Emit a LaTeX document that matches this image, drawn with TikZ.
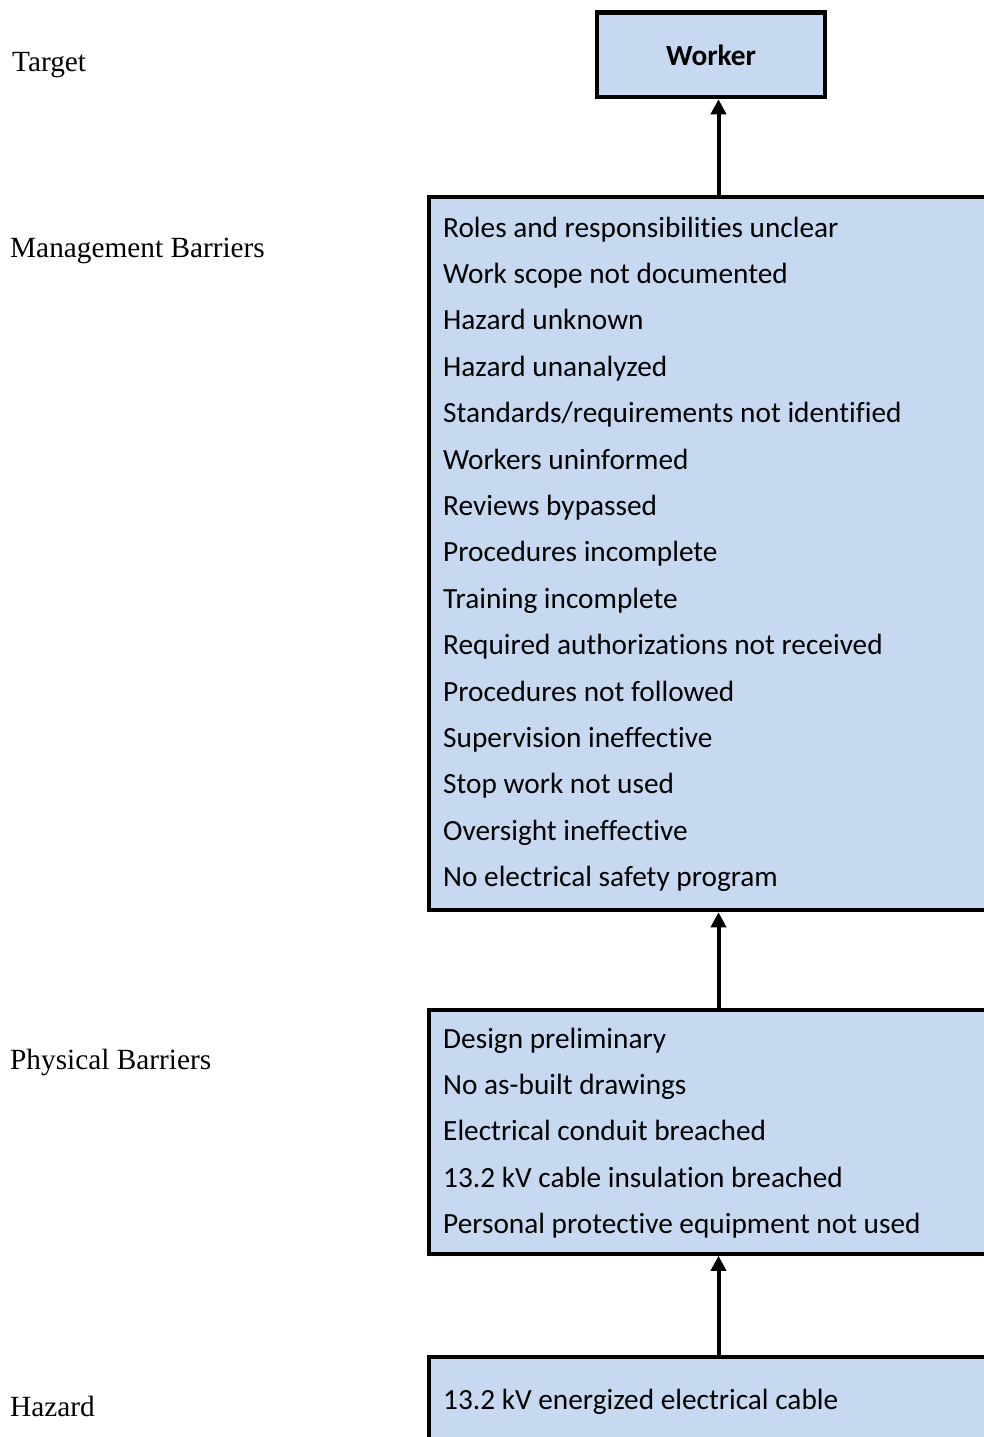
\documentclass[tikz,border=0pt]{standalone}
\usepackage{xcolor}
\usepackage{fontspec}
\setmainfont{Liberation Serif}
\newfontfamily\boxfont[Ligatures=NoCommon]{Carlito}
\usepackage{tikz}
\usetikzlibrary{positioning, arrows.meta}
\definecolor{boxblue}{RGB}{198,217,241}
\tikzset{>={Triangle[width=15pt, length=15pt]}, flow/.style={->, line width=4pt}}
\tikzstyle{barrier}=[draw, line width=4.3pt, fill=boxblue, inner sep=0pt, anchor=north west]
\tikzstyle{items}=[align=left, inner sep=0pt, anchor=north west, font=\boxfont\fontsize{29.3}{46.4}\selectfont]
\tikzstyle{level}=[inner sep=0pt, anchor=base west, font=\fontsize{29.3}{35}\selectfont]

\begin{document}
\begin{tikzpicture}[x=1pt, y=-1pt]
\useasboundingbox (0,0) rectangle (984,1437);
\clip (0,0) rectangle (984,1437);
% levels on the left
\node[level] (target) at (12,71.5) {Target};
\node[level] (mgmtLabel) at (10,257.5) {Management Barriers};
\node[level] (physLabel) at (10,1069.5) {Physical Barriers};
\node[level] (hazardLabel) at (10,1416.5) {Hazard};
% boxes
\node[barrier, minimum width=228pt, minimum height=84.5pt, font=\boxfont\bfseries\fontsize{29.3}{35}\selectfont] (worker) at (595,10.5) {Worker};
\node[barrier, minimum width=700pt, minimum height=713.5pt] (mgmt) at (427,194.5) {};
\node[items] (mgmtList) at (443,216.5) {Roles and responsibilities unclear\\Work scope not documented\\Hazard unknown\\Hazard unanalyzed\\Standards/requirements not identified\\Workers uninformed\\Reviews bypassed\\Procedures incomplete\\Training incomplete\\Required authorizations not received\\Procedures not followed\\Supervision ineffective\\Stop work not used\\Oversight ineffective\\No electrical safety program};
\node[barrier, minimum width=700pt, minimum height=243.5pt] (phys) at (427,1008) {};
\node[items] (physList) at (443,1027.5) {Design preliminary\\No as-built drawings\\Electrical conduit breached\\13.2 kV cable insulation breached\\Personal protective equipment not used};
\node[barrier, minimum width=700pt, minimum height=200pt] (hazard) at (427,1355) {};
\node[items] (hazardList) at (443,1388.5) {13.2 kV energized electrical cable};
% arrows
\coordinate (spine) at (718.5,0);
\draw[flow] (spine |- hazard.north) -- (spine |- phys.south);
\draw[flow] (spine |- phys.north) -- (spine |- mgmt.south);
\draw[flow] (spine |- mgmt.north) -- (spine |- worker.south);
\end{tikzpicture}
\end{document}
